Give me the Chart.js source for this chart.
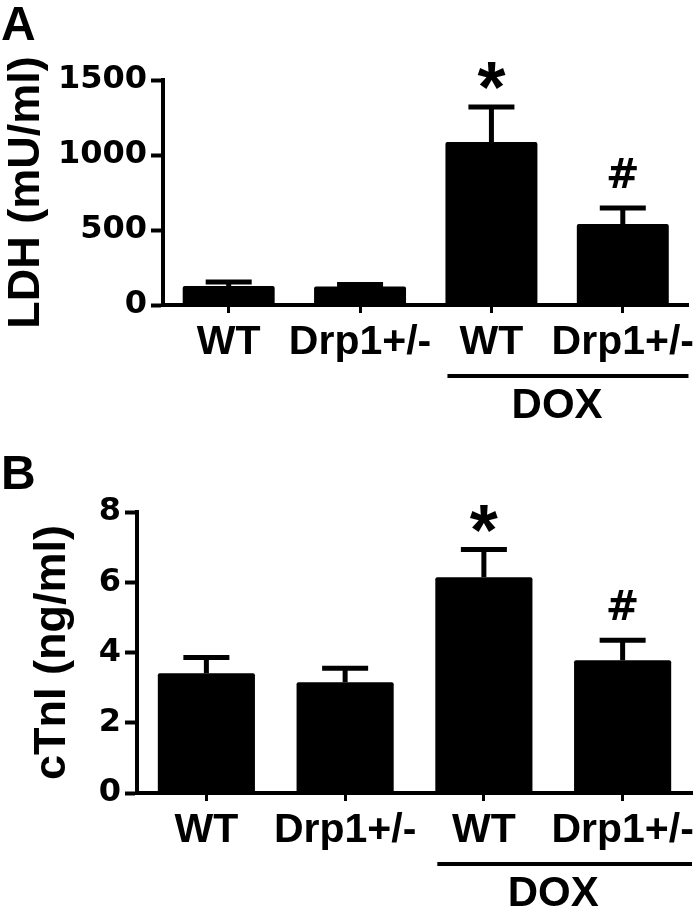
<!DOCTYPE html>
<html>
<head>
<meta charset="utf-8">
<script src="https://cdn.jsdelivr.net/npm/chart.js@4.4.1/dist/chart.umd.min.js"></script>
<style>
  body { margin: 0; background: #fff; }
  canvas { display: block; }
</style>
</head>
<body>
<canvas id="ldhChart" width="700" height="455"></canvas>
<canvas id="ctniChart" width="700" height="458"></canvas>
<script>
// groups on the x axis
const categories = ['WT', 'Drp1+/-', 'WT', 'Drp1+/-'];
const marks = ['', '', '*', '#'];

// panel A: LDH (mU/ml)
const ldhMean = [127, 124, 1087, 540];
const ldhSem = [26, 12, 233, 107];
const ldhTicks = [0, 500, 1000, 1500];

// panel B: cTnI (ng/ml)
const ctniMean = [3.41, 3.15, 6.14, 3.78];
const ctniSem = [0.45, 0.40, 0.79, 0.57];
const ctniTicks = [0, 2, 4, 6, 8];

const FONT = "'Liberation Sans', Arial, sans-serif";
const WIDE = "'DejaVu Sans', Verdana, sans-serif";

// error bars, significance marks, DOX bracket and panel letter
function makeExtras(mean, sem, letter) {
    return {
        id: 'extras',
        afterDatasetsDraw(chart) {
            const { ctx } = chart;
            const x = chart.scales.x;
            const y = chart.scales.y;
            ctx.save();
            ctx.strokeStyle = '#000';
            ctx.fillStyle = '#000';
            ctx.lineWidth = 5;
            mean.forEach((m, i) => {
                const cx = x.getPixelForValue(i);
                const base = y.getPixelForValue(m);
                const top = y.getPixelForValue(m + sem[i]);
                ctx.beginPath();
                ctx.moveTo(cx, base);
                ctx.lineTo(cx, top);
                ctx.moveTo(cx - 23, top);
                ctx.lineTo(cx + 23, top);
                ctx.stroke();

                ctx.textAlign = 'center';
                ctx.textBaseline = 'alphabetic';
                if (marks[i] === '*') {
                    ctx.font = 'bold 72px ' + FONT;
                    ctx.fillText('*', cx, top + 5);
                } else if (marks[i] === '#') {
                    ctx.font = 'bold 40px ' + WIDE;
                    ctx.fillText('#', cx, top - 20);
                }
            });
            ctx.restore();
        },
        afterDraw(chart) {
            const { ctx, chartArea } = chart;
            const x = chart.scales.x;
            const meta = chart.getDatasetMeta(0);
            const bar3 = meta.data[2];
            const left = bar3.x - bar3.width / 2 + 2;
            const axisY = chartArea.bottom;
            ctx.save();
            ctx.strokeStyle = '#000';
            ctx.fillStyle = '#000';
            ctx.lineWidth = 4;
            ctx.beginPath();
            ctx.moveTo(left, axisY + 71);
            ctx.lineTo(chartArea.right, axisY + 71);
            ctx.stroke();

            ctx.textAlign = 'center';
            ctx.textBaseline = 'alphabetic';
            ctx.font = 'bold 42px ' + FONT;
            const mid = (x.getPixelForValue(2) + x.getPixelForValue(3)) / 2;
            ctx.fillText('DOX', mid, axisY + 113);

            ctx.textAlign = 'left';
            ctx.font = 'bold 48px ' + FONT;
            ctx.fillText(letter.text, 1, letter.base);
            ctx.restore();
        }
    };
}

function makeChart(id, cfg) {
    const ctx = document.getElementById(id).getContext('2d');
    return new Chart(ctx, {
        type: 'bar',
        data: {
            labels: categories,
            datasets: [{
                data: cfg.mean,
                backgroundColor: '#000',
                borderWidth: 0,
                borderRadius: 2,
                barPercentage: 0.7,
                categoryPercentage: 1
            }]
        },
        options: {
            responsive: false,
            animation: false,
            layout: { padding: { left: 0, top: cfg.top, right: 8, bottom: 0 } },
            plugins: {
                legend: { display: false },
                tooltip: { enabled: false }
            },
            scales: {
                x: {
                    afterFit: s => { s.height = cfg.xHeight; },
                    border: { display: true, color: '#000', width: 4 },
                    grid: {
                        offset: false,
                        drawOnChartArea: false,
                        color: '#000',
                        tickLength: 8,
                        tickWidth: 3
                    },
                    ticks: {
                        color: '#000',
                        font: { family: FONT, size: 41, weight: 'bold' },
                        padding: 5,
                        maxRotation: 0,
                        autoSkip: false
                    }
                },
                y: {
                    min: cfg.ticks[0],
                    max: cfg.ticks[cfg.ticks.length - 1],
                    afterFit: s => { s.width = cfg.yWidth; },
                    afterBuildTicks: s => { s.ticks = cfg.ticks.map(v => ({ value: v })); },
                    border: { display: true, color: '#000', width: 4 },
                    grid: {
                        drawOnChartArea: false,
                        color: '#000',
                        tickLength: 12,
                        tickWidth: 4
                    },
                    ticks: {
                        color: '#000',
                        font: { family: WIDE, size: 32, weight: 'bold' },
                        padding: 4,
                        callback: v => String(v)
                    },
                    title: {
                        display: true,
                        text: cfg.title,
                        color: '#000',
                        font: { family: FONT, size: 45, weight: 'bold', lineHeight: 1 },
                        padding: { top: cfg.titlePad, bottom: 0 }
                    }
                }
            }
        },
        plugins: [makeExtras(cfg.mean, cfg.sem, cfg.letter)]
    });
}

makeChart('ldhChart', {
    mean: ldhMean, sem: ldhSem, ticks: ldhTicks,
    title: 'LDH (mU/ml)',
    top: 80, xHeight: 150, yWidth: 163, titlePad: 4,
    letter: { text: 'A', base: 40 }
});

makeChart('ctniChart', {
    mean: ctniMean, sem: ctniSem, ticks: ctniTicks,
    title: 'cTnI (ng/ml)',
    top: 57, xHeight: 120, yWidth: 137, titlePad: 30,
    letter: { text: 'B', base: 34 }
});
</script>
</body>
</html>
